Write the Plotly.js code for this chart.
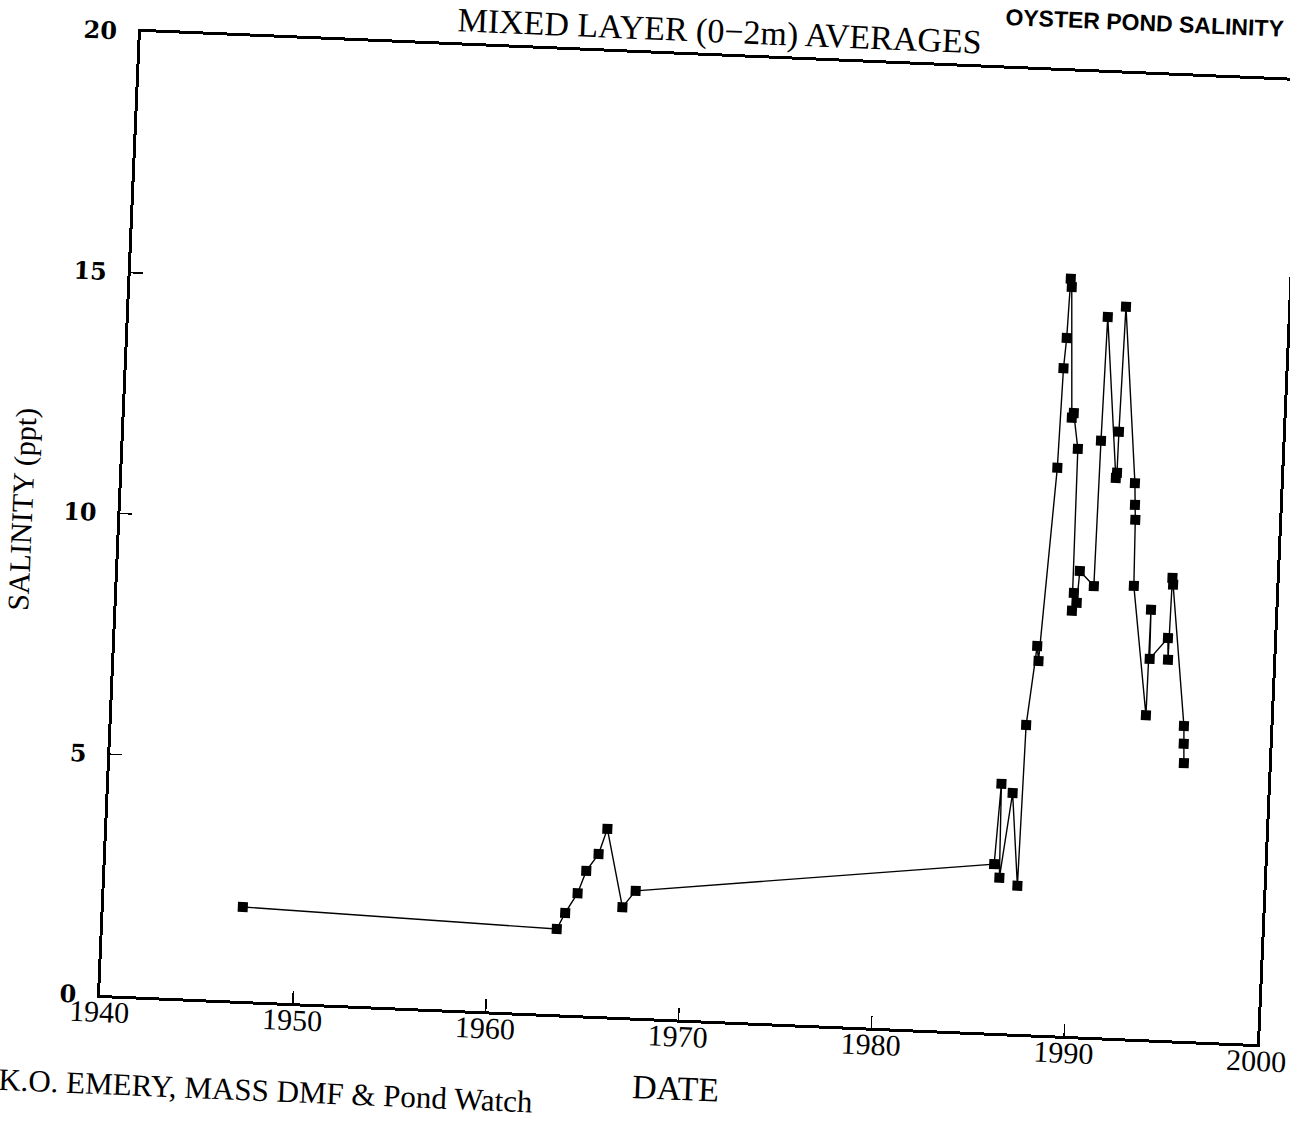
<!DOCTYPE html>
<html>
<head>
<meta charset="utf-8">
<script src="https://cdn.plot.ly/plotly-3.0.1.min.js"></script>
<style>
  html, body { margin: 0; padding: 0; background: #ffffff; overflow: hidden; width: 1290px; height: 1121px; }
  #wrap { position: absolute; left: -40px; top: -60px; width: 1330px; height: 1230px;
          transform-origin: 140px 1055px; transform: rotate(2.43deg); }
</style>
</head>
<body>
<div id="wrap"><div id="chart" style="width:1330px;height:1230px;"></div></div>
<script>
// Oyster Pond mixed layer (0-2 m) salinity averages
const years = [1947.2, 1963.5, 1963.9, 1964.5, 1964.9, 1965.5, 1965.9, 1966.85, 1967.5,
               1986.0, 1986.2, 1986.3, 1986.8, 1987.25, 1987.35, 1987.75, 1987.85,
               1988.4, 1988.5, 1988.6, 1988.68, 1988.75,
               1989.04, 1989.13, 1989.42, 1989.47, 1989.53, 1989.7, 1989.79, 1990.55,
               1990.6, 1990.68,
               1991.45, 1991.5, 1991.51, 1991.6,
               1992.45, 1992.5, 1992.55, 1992.62,
               1993.53, 1993.56, 1993.6,
               1994.5, 1994.55, 1994.6, 1994.65,
               1995.52, 1995.55, 1995.6];
const salinity = [1.95, 1.77, 2.11, 2.53, 3.00, 3.36, 3.89, 2.28, 2.63,
                  3.50, 5.17, 3.22, 4.99, 3.07, 6.41, 8.06, 7.75,
                  11.77, 13.84, 14.47, 15.70, 15.53,
                  12.82, 12.92, 12.18, 8.82, 9.19, 8.99, 9.65, 9.35,
                  12.37, 14.94,
                  11.61, 11.72, 12.57, 15.17,
                  11.52, 11.07, 10.76, 9.39,
                  6.72, 8.91, 7.89,
                  8.34, 7.89, 9.59, 9.45,
                  6.53, 6.16, 5.76];
const xTickVals = [1940, 1950, 1960, 1970, 1980, 1990, 2000];
const xTickText = ['1940', '1950', '1960', '1970', '1980', '1990', '2000'];
const yTickVals = [0, 5, 10, 15, 20];
const yTickText = ['0', '5', '10', '15', '20'];

const mainTitle = 'OYSTER POND SALINITY';
const subTitle = 'MIXED LAYER (0\u22122m) AVERAGES';
const xTitle = 'DATE';
const yTitle = 'SALINITY (ppt)';
const credit = 'K.O. EMERY, MASS DMF &amp; Pond Watch';

const serif = 'Liberation Serif, Times New Roman, serif';

const trace = {
  x: years,
  y: salinity,
  type: 'scatter',
  mode: 'lines+markers',
  line: { color: '#000000', width: 1.4 },
  marker: { symbol: 'square', size: 10, color: '#000000' },
  hoverinfo: 'skip',
  showlegend: false
};

const layout = {
  width: 1330,
  height: 1230,
  autosize: false,
  margin: { l: 140, r: 32, t: 91, b: 175, pad: 0 },
  paper_bgcolor: '#ffffff',
  plot_bgcolor: '#ffffff',
  showlegend: false,
  title: {
    text: mainTitle,
    font: { family: 'Liberation Sans, Arial, sans-serif', size: 23, color: '#000000', weight: 'bold' },
    xref: 'paper', x: 0.986, xanchor: 'right',
    yref: 'container', y: 0.968, yanchor: 'middle'
  },
  xaxis: {
    range: [1940, 2000],
    tickmode: 'array',
    tickvals: xTickVals,
    ticktext: xTickText,
    ticks: 'inside',
    ticklen: 12,
    tickwidth: 1.5,
    tickcolor: '#000000',
    showline: true,
    linewidth: 3,
    linecolor: '#000000',
    mirror: true,
    showgrid: false,
    zeroline: false,
    fixedrange: true,
    ticklabelstandoff: -12,
    tickfont: { family: serif, size: 30, color: '#000000' },
    title: { text: xTitle, font: { family: serif, size: 34, color: '#000000' }, standoff: 25 }
  },
  yaxis: {
    range: [0, 20],
    tickmode: 'array',
    tickvals: yTickVals,
    ticktext: yTickText,
    ticks: 'inside',
    ticklen: 12,
    tickwidth: 1.5,
    tickcolor: '#000000',
    showline: true,
    linewidth: 3,
    linecolor: '#000000',
    mirror: true,
    showgrid: false,
    zeroline: false,
    fixedrange: true,
    ticklabelstandoff: 16,
    tickfont: { family: 'DejaVu Serif, serif', size: 24, color: '#000000', weight: 'bold' },
    title: { text: yTitle, font: { family: serif, size: 30, color: '#000000' }, standoff: 22 }
  },
  annotations: [
    {
      text: subTitle,
      xref: 'paper', yref: 'paper',
      x: 0.499, y: 1.0255,
      xanchor: 'center', yanchor: 'middle',
      showarrow: false,
      font: { family: serif, size: 34, color: '#000000' }
    },
    {
      text: credit,
      xref: 'paper', yref: 'paper',
      x: 0.1464, y: -0.0915,
      xanchor: 'center', yanchor: 'middle',
      showarrow: false,
      font: { family: serif, size: 31, color: '#000000' }
    }
  ]
};

Plotly.newPlot('chart', [trace], layout, { displayModeBar: false, staticPlot: true });
</script>
</body>
</html>
